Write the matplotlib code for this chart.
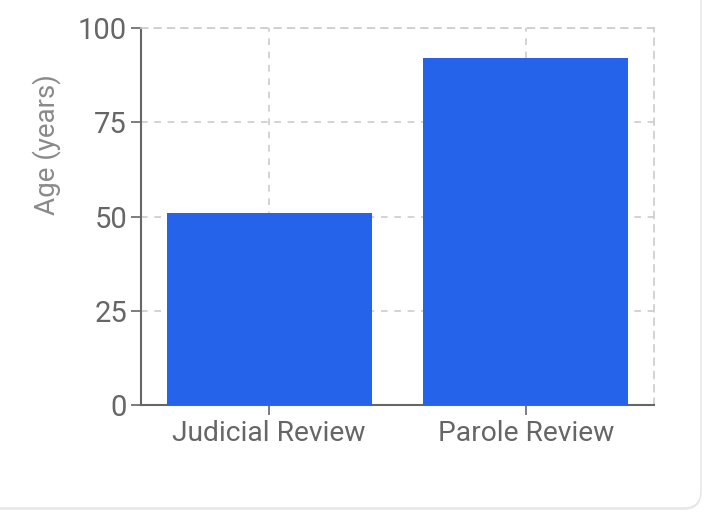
import matplotlib
matplotlib.use("Agg")
import matplotlib.pyplot as plt
from matplotlib.patches import FancyBboxPatch

categories = ["Judicial Review", "Parole Review"]
values = [51, 92]
yticks = [0, 25, 50, 75, 100]

plt.rcParams['font.family'] = ['Roboto', 'DejaVu Sans']

W, H = 704, 514
fig = plt.figure(figsize=(W / 100, H / 100), dpi=100)
fig.patch.set_facecolor("white")

# card outline (rounded bottom-right corner visible)
left, bottom, right, top = -0.05, 1 - 508 / H, 701 / W, 1.1
shadow = FancyBboxPatch((left, bottom - 2 / H), right - left, top - bottom,
                        boxstyle="round,pad=0,rounding_size=0.024",
                        transform=fig.transFigure, facecolor="#ececec", edgecolor="none",
                        mutation_aspect=W / H, zorder=-6)
fig.add_artist(shadow)
card = FancyBboxPatch((left, bottom), right - left, top - bottom,
                      boxstyle="round,pad=0,rounding_size=0.024",
                      transform=fig.transFigure, facecolor="white", edgecolor="#e4e4e4",
                      linewidth=1.0, mutation_aspect=W / H, zorder=-5)
fig.add_artist(card)

ax = fig.add_axes([141 / W, 1 - 405 / H, (654 - 141) / W, (405 - 28) / H])
ax.set_facecolor("none")
ax.set_zorder(2)

x = list(range(len(categories)))
ax.bar(x, values, width=0.8, color="#2563EB", zorder=3)

ax.set_xlim(-0.5, 1.5)
ax.set_ylim(0, 100)
ax.set_xticks(x)
ax.set_xticklabels(categories)
ax.set_yticks(yticks)

gc = "#cccccc"
ax.grid(True, linestyle=(0, (4, 4)), color=gc, linewidth=1.2, zorder=0)
ax.set_axisbelow(True)
for s in ["top", "right"]:
    ax.spines[s].set_visible(True)
    ax.spines[s].set_color(gc)
    ax.spines[s].set_linestyle((0, (4, 4)))
    ax.spines[s].set_linewidth(1.2)
for s in ["left", "bottom"]:
    ax.spines[s].set_color("#666666")
    ax.spines[s].set_linewidth(1.5)

ax.tick_params(axis="both", colors="#666666", length=7, width=1.2, direction="out")
ax.tick_params(axis="y", labelsize=21, pad=3)
ax.tick_params(axis="x", labelsize=20.3, pad=4)
for lbl in ax.get_xticklabels() + ax.get_yticklabels():
    lbl.set_color("#666666")

ax.set_ylabel("Age (years)", fontsize=20, color="#8a8a8a")
ax.yaxis.set_label_coords((61 - 141) / 513, (405 - 145) / 377)

fig.savefig("out.png", dpi=100, facecolor="white")
